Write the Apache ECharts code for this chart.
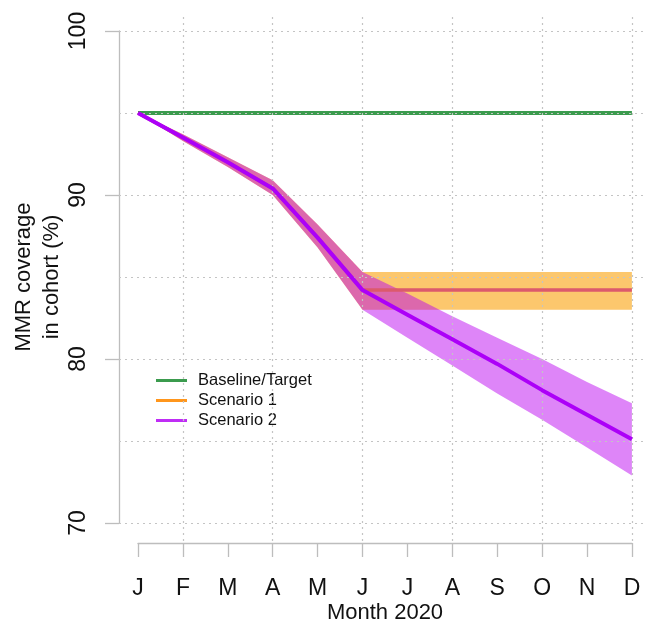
<!DOCTYPE html>
<html>
<head>
<meta charset="utf-8">
<script src="https://cdn.jsdelivr.net/npm/echarts@6/dist/echarts.min.js"></script>
<style>
html,body{margin:0;padding:0;background:#fff;}
#chart{width:646px;height:622px;}
</style>
</head>
<body>
<div id="chart"></div>
<script>
// ---- data ----
const months = ['J','F','M','A','M','J','J','A','S','O','N','D'];
const monthNum = [1,2,3,4,5,6,7,8,9,10,11,12];
const baseline = [95,95,95,95,95,95,95,95,95,95,95,95];
const sc1Mid = [95,93.5,92.0,90.4,87.4,84.2,84.2,84.2,84.2,84.2,84.2,84.2];
const sc1Lo  = [95,93.3,91.7,90.0,86.8,83.0,83.0,83.0,83.0,83.0,83.0,83.0];
const sc1Hi  = [95,93.7,92.3,90.9,88.2,85.3,85.3,85.3,85.3,85.3,85.3,85.3];
const sc2Mid = [95,93.5,92.0,90.4,87.4,84.2,82.7,81.2,79.7,78.1,76.6,75.1];
const sc2Lo  = [95,93.3,91.7,90.0,86.8,83.0,81.3,79.6,77.9,76.3,74.6,72.9];
const sc2Hi  = [95,93.7,92.3,90.9,88.2,85.3,84.0,82.6,81.3,80.0,78.6,77.3];
const yTicks = [70,80,90,100];
const yGridVals = [70,75,80,85,90,95,100];
const xGridVals = [2,4,6,8,10,12];
const yTitle = 'MMR coverage\nin cohort (%)';
const xTitle = 'Month 2020';

const pair = (ys) => monthNum.map((x,i) => [x, ys[i]]);
const band = (lo, hi) => monthNum.map((x,i) => [x, lo[i], hi[i]]);

function bandRender(params, api){
  if (params.dataIndexInside !== 0) return null;
  const n = params.dataInsideLength;
  const top = [], bot = [];
  for (let i = 0; i < n; i++){
    const x = api.value(0, i);
    top.push(api.coord([x, api.value(2, i)]));
    bot.push(api.coord([x, api.value(1, i)]));
  }
  const pts = top.concat(bot.reverse());
  return {type:'polygon', shape:{points:pts}, style:{fill: api.visual('color'), opacity: 1}};
}

const FONT = 'Liberation Sans, Arial, sans-serif';
const GRIDC = '#c4c4c4';
const AXC = '#bdbdbd';

const chart = echarts.init(document.getElementById('chart'), null, {renderer:'canvas'});
chart.setOption({
  animation:false,
  backgroundColor:'#fff',
  textStyle:{fontFamily:FONT},
  grid:[
    {left:119, right:0, top:14, bottom:81, containLabel:false, outerBoundsMode:'none'},
    {left:138, right:14, top:31, bottom:99, containLabel:false, outerBoundsMode:'none'}
  ],
  xAxis:[
    {gridIndex:0, type:'value', min:0.5768, max:12.314, show:false},
    {gridIndex:1, type:'value', min:1, max:12, interval:1, offset:20,
     axisLine:{show:true, lineStyle:{color:AXC, width:1.3}},
     axisTick:{show:true, length:14, lineStyle:{color:AXC, width:1.3}},
     splitLine:{show:false},
     axisLabel:{color:'#111', fontSize:23, margin:34, fontFamily:FONT,
       formatter:(v)=>months[Math.round(v)-1] || ''},
     name:xTitle, nameLocation:'middle', nameGap:59, nameMoveOverlap:false,
     nameTextStyle:{color:'#111', fontSize:22, fontFamily:FONT}}
  ],
  yAxis:[
    {gridIndex:0, type:'value', min:68.9, max:101.037, show:false},
    {gridIndex:1, type:'value', min:70, max:100, interval:10, offset:19,
     axisLine:{show:true, lineStyle:{color:AXC, width:1.3}},
     axisTick:{show:true, length:14, lineStyle:{color:AXC, width:1.3}},
     splitLine:{show:false},
     axisLabel:{color:'#111', fontSize:23, margin:29, rotate:90, fontFamily:FONT,
       formatter:(v)=> yTicks.indexOf(v) >= 0 ? String(v) : ''},
     name:yTitle, nameLocation:'middle', nameGap:53, nameRotate:90, nameMoveOverlap:false,
     nameTextStyle:{color:'#111', fontSize:22, lineHeight:28, fontFamily:FONT, align:'center'}}
  ],
  legend:{
    orient:'vertical', left:151, top:367, icon:'rect', itemWidth:31, itemHeight:3,
    itemGap:3, textStyle:{fontSize:16.5, color:'#111', fontFamily:FONT, padding:[0,0,0,6]},
    data:[
      {name:'Baseline/Target', itemStyle:{color:'#3b9b4e'}},
      {name:'Scenario 1', itemStyle:{color:'#ff961c'}},
      {name:'Scenario 2', itemStyle:{color:'#bf2df5'}}
    ]
  },
  series:[
    {name:'Scenario 1', type:'custom', xAxisIndex:0, yAxisIndex:0, z:2,
     itemStyle:{color:'rgba(250,165,20,0.62)'},
     renderItem:bandRender, encode:{x:0, y:[1,2]}, data:band(sc1Lo, sc1Hi), silent:true},
    {name:'Scenario 2', type:'custom', xAxisIndex:0, yAxisIndex:0, z:3,
     itemStyle:{color:'rgba(185,0,240,0.48)'},
     renderItem:bandRender, encode:{x:0, y:[1,2]}, data:band(sc2Lo, sc2Hi), silent:true},
    {name:'Baseline/Target', type:'line', xAxisIndex:0, yAxisIndex:0, z:4,
     showSymbol:false, symbol:'none', lineStyle:{color:'#3b9b4e', width:4},
     itemStyle:{color:'#3b9b4e'}, data:pair(baseline)},
    {name:'Scenario 1', type:'line', xAxisIndex:0, yAxisIndex:0, z:5,
     showSymbol:false, symbol:'none', lineStyle:{color:'#dc5a6c', width:3.5},
     itemStyle:{color:'#dc5a6c'}, data:pair(sc1Mid)},
    {name:'Scenario 2', type:'line', xAxisIndex:0, yAxisIndex:0, z:6,
     showSymbol:false, symbol:'none', lineStyle:{color:'#ac00f8', width:4},
     itemStyle:{color:'#ac00f8'}, data:pair(sc2Mid)},
    {name:'grid', type:'line', xAxisIndex:0, yAxisIndex:0, z:10, data:[], silent:true,
     markLine:{silent:true, symbol:['none','none'], label:{show:false},
       lineStyle:{color:GRIDC, type:[2,4], width:1.2},
       data: yGridVals.map(v=>({yAxis:v})).concat(xGridVals.map(v=>({xAxis:v})))}}
  ]
});
</script>
</body>
</html>
